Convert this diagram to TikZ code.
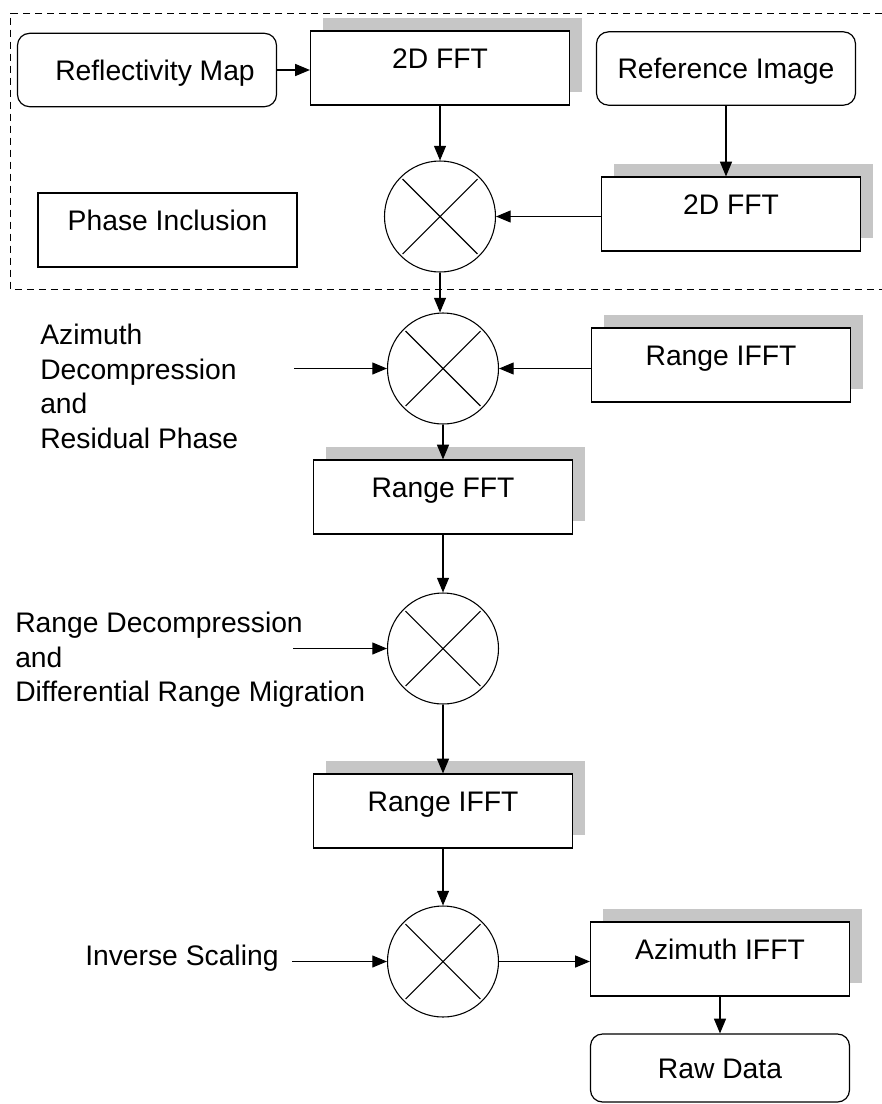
\documentclass[tikz,border=0pt]{standalone}
\usepackage{fontspec}
\setmainfont{Liberation Sans}
\usetikzlibrary{arrows.meta, shadows}

\tikzset{
  blk/.style={draw, line width=0.9pt, fill=white, minimum width=194.25pt, minimum height=55.5pt, inner sep=0pt, text height=8pt, text depth=8pt},
  fftblk/.style={blk, drop shadow={shadow xshift=9.4pt, shadow yshift=9.4pt, fill=gray!45, opacity=1}},
  endblk/.style={draw, line width=0.9pt, fill=white, rounded corners=9pt, minimum width=194.25pt, minimum height=55pt, inner sep=0pt, text height=15.2pt, text depth=0pt},
  mult/.style={circle, draw, line width=0.8pt, fill=white, minimum size=83.25pt, inner sep=0pt,
    path picture={\draw[line width=0.8pt]
      ([xshift=-28.1pt,yshift=-28.1pt]path picture bounding box.center) -- ([xshift=28.1pt,yshift=28.1pt]path picture bounding box.center)
      ([xshift=-28.1pt,yshift=28.1pt]path picture bounding box.center) -- ([xshift=28.1pt,yshift=-28.1pt]path picture bounding box.center);}},
  arr/.style={-{Triangle[length=11pt,width=9pt]}, line width=0.8pt},
  lbl/.style={anchor=north west, inner sep=0pt, align=left}
}

\begin{document}
\begin{tikzpicture}[x=0.75pt, y=-0.75pt, font=\fontsize{21.2pt}{26pt}\selectfont]
  \useasboundingbox (0,0) rectangle (882,1104);

  % Phase inclusion frame
  \draw[dash pattern=on 5.5pt off 3.5pt, line width=0.75pt] (882,13) -- (10.7,13) -- (10.7,289.5) -- (882,289.5);

  % Blocks
  \node[endblk] (refl) at (147,70) {\hspace{12pt}Reflectivity Map};
  \node[fftblk] (fftA) at (440,68) {2D FFT};
  \node[endblk] (refimg) at (726,68.5) {Reference Image};
  \node[fftblk] (fftB) at (731,214) {2D FFT};
  \node[blk] (phase) at (167.5,230) {Phase Inclusion};
  \node[mult] (mulA) at (440,216.5) {};

  \node[mult] (mulB) at (443,368.5) {};
  \node[fftblk] (rifftA) at (721,365) {Range IFFT};
  \node[fftblk] (rfft) at (443,497) {Range FFT};
  \node[mult] (mulC) at (443,648.5) {};
  \node[fftblk] (rifftB) at (443,811) {Range IFFT};
  \node[mult] (mulD) at (443,961.5) {};
  \node[fftblk] (aifft) at (720,959) {Azimuth IFFT};
  \node[endblk, minimum height=51pt] (raw) at (720,1068) {Raw Data};

  % Inputs
  \node[lbl] (azlbl) at (40,323.8) {Azimuth\\Decompression\\and\\Residual Phase};
  \node[lbl] (rdlbl) at (15,611.8) {Range Decompression\\and\\Differential Range Migration};
  \node[lbl] (invlbl) at (85,944.8) {Inverse Scaling};
  \coordinate (azin) at (294,368.5);
  \coordinate (rdin) at (293,648.5);
  \coordinate (invin) at (292,961.5);

  % Connections
  \draw[arr] (refl.east) -- (refl.east -| fftA.west);
  \draw[arr] (fftA) -- (mulA);
  \draw[arr] (refimg.south) -- (refimg.south |- fftB.north);
  \draw[arr] (fftB.west |- mulA) -- (mulA.east);
  \draw[arr] (mulA.south) -- (mulA.south |- mulB.north);
  \draw[arr] (azin) -- (mulB);
  \draw[arr] (rifftA.west |- mulB) -- (mulB.east);
  \draw[arr] (mulB) -- (rfft);
  \draw[arr] (rfft) -- (mulC);
  \draw[arr] (rdin) -- (mulC);
  \draw[arr] (mulC) -- (rifftB);
  \draw[arr] (rifftB) -- (mulD);
  \draw[arr] (invin) -- (mulD);
  \draw[arr] (mulD.east) -- (mulD.east -| aifft.west);
  \draw[arr] (aifft) -- (raw);
\end{tikzpicture}
\end{document}
